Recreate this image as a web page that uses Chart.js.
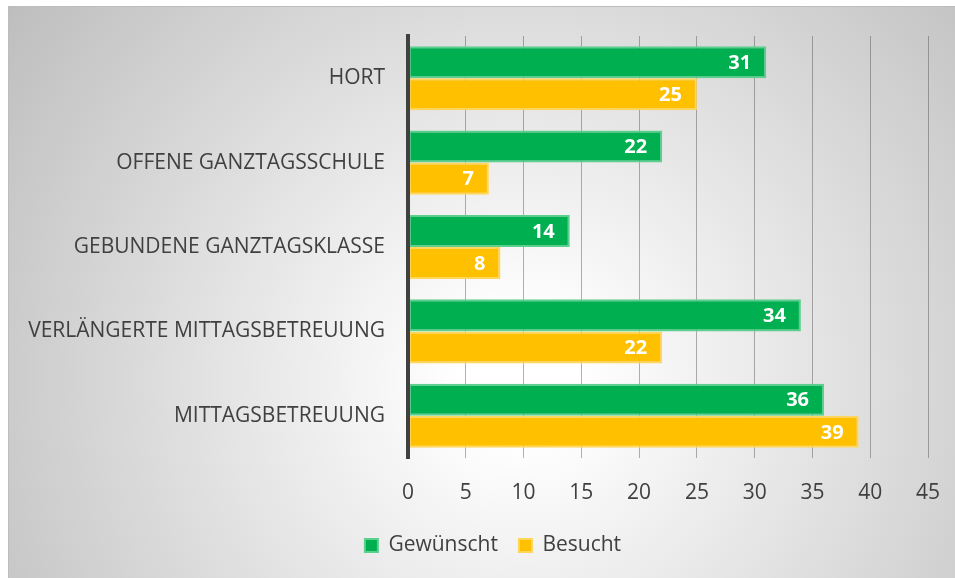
<!DOCTYPE html>
<html>
<head>
<meta charset="utf-8">
<script src="https://cdn.jsdelivr.net/npm/chart.js@4/dist/chart.umd.min.js"></script>
<style>
  html, body { margin: 0; padding: 0; background: #fff; overflow: hidden; }
  #box { position: absolute; left: 8px; top: 6px; width: 947px; height: 572px; }
</style>
</head>
<body>
<div id="box"><canvas id="chart"></canvas></div>
<script>
const categories = ['HORT', 'OFFENE GANZTAGSSCHULE', 'GEBUNDENE GANZTAGSKLASSE', 'VERLÄNGERTE MITTAGSBETREUUNG', 'MITTAGSBETREUUNG'];
const gewuenscht = [31, 22, 14, 34, 36];
const besucht = [25, 7, 8, 22, 39];
const xTicks = [0, 5, 10, 15, 20, 25, 30, 35, 40, 45];

const FONT = "'Open Sans', 'Noto Sans', sans-serif";

// Hintergrund mit radialem Verlauf + Rahmen
const bgPlugin = {
  id: 'bg',
  beforeDraw(chart) {
    const c = chart.ctx;
    const w = chart.width, h = chart.height;
    const g = c.createRadialGradient(512, 374, 60, 512, 374, 640);
    g.addColorStop(0, '#ffffff');
    g.addColorStop(1, '#bdbdbd');
    c.save();
    c.fillStyle = g;
    c.fillRect(0, 0, w, h);
    c.strokeStyle = '#bdbdbd';
    c.lineWidth = 1;
    c.strokeRect(0.5, 0.5, w + 5, h + 5);
    c.restore();
  },
  // Legende etwas nach rechts schieben (wie im Original)
  afterLayout(chart) {
    chart.legend.left += 25;
    chart.legend.right += 25;
  }
};

// Werte in die Balken schreiben
const labelPlugin = {
  id: 'barLabels',
  afterDatasetsDraw(chart) {
    const c = chart.ctx;
    c.save();
    c.font = "bold 20px " + FONT;
    c.fillStyle = '#ffffff';
    c.textAlign = 'right';
    c.textBaseline = 'middle';
    chart.data.datasets.forEach((ds, i) => {
      chart.getDatasetMeta(i).data.forEach((bar, j) => {
        c.fillText(ds.data[j], bar.x - 15, bar.y + 1);
      });
    });
    c.restore();
  }
};

new Chart(document.getElementById('chart'), {
  type: 'bar',
  data: {
    labels: categories,
    datasets: [
      {
        label: 'Gewünscht',
        data: gewuenscht,
        backgroundColor: '#00b050',
        borderColor: '#5ccf8f',
        borderWidth: 2,
        borderSkipped: false
      },
      {
        label: 'Besucht',
        data: besucht,
        backgroundColor: '#ffc000',
        borderColor: '#ffd65c',
        borderWidth: 2,
        borderSkipped: false
      }
    ]
  },
  options: {
    indexAxis: 'y',
    responsive: true,
    maintainAspectRatio: false,
    animation: false,
    layout: { padding: { left: 0, right: 27, top: 30, bottom: 12 } },
    datasets: { bar: { categoryPercentage: 0.76, barPercentage: 1 } },
    scales: {
      x: {
        min: 0,
        max: 45,
        afterBuildTicks(scale) { scale.ticks = xTicks.map(v => ({ value: v })); },
        afterFit(scale) {
          scale.height = 56;
          scale.paddingLeft = 0;
          scale.paddingRight = 0;
        },
        grid: { color: 'rgba(70,70,70,0.42)', lineWidth: 1, drawTicks: false },
        border: { display: false },
        ticks: { padding: 22, color: '#404040', font: { family: FONT, size: 21 } }
      },
      y: {
        afterFit(scale) {
          scale.width = 400;
          scale.paddingTop = 0;
          scale.paddingBottom = 0;
        },
        grid: { display: false, drawTicks: false },
        border: { display: true, color: '#404040', width: 4, z: 1 },
        ticks: { padding: 23, color: '#404040', font: { family: FONT, size: 21 } }
      }
    },
    plugins: {
      legend: {
        position: 'bottom',
        labels: {
          boxWidth: 13,
          boxHeight: 13,
          padding: 21,
          color: '#404040',
          font: { family: FONT, size: 21 }
        }
      },
      tooltip: { enabled: false }
    }
  },
  plugins: [bgPlugin, labelPlugin]
});
</script>
</body>
</html>
